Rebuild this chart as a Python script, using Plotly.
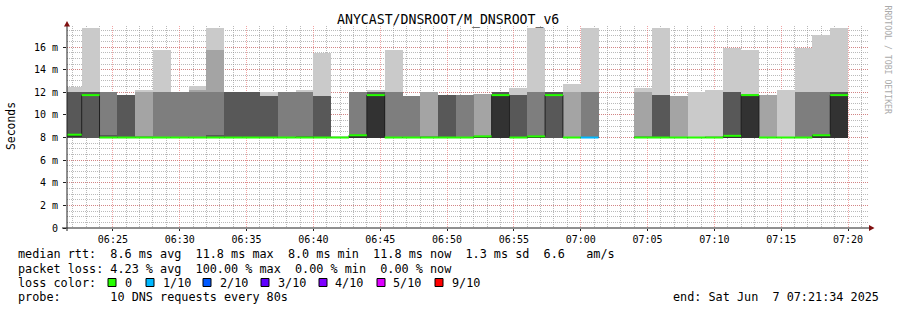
import plotly.graph_objects as go
from datetime import datetime, timedelta

# ---------------- data ----------------
STEP_S = 80
first_step_start = datetime(2025, 6, 7, 6, 21, 20)
view_start = datetime(2025, 6, 7, 6, 21, 34)
view_end = datetime(2025, 6, 7, 7, 21, 34)
N = None

# sorted ping RTTs per 80 s step (ms), rank 1 (fastest) .. rank 10 (slowest)
ping1 = [8.0]*30 + [N, N] + [8.0]*12
ping2 = [8.0]*30 + [N, N] + [8.0]*12
ping3 = [8.0]*30 + [N, N] + [8.0]*12
ping4 = [8.0]*30 + [N, N] + [8.0]*12
ping5 = [8.1, 11.75, 8.0, 8.0, 8.0, 8.0, 8.0, 8.0, 8.0, 8.0,
         8.0, 8.0, 8.0, 8.0, 8.0, 8.0, 8.0, 8.0, 8.0, 8.0,
         8.0, 8.0, 8.0, 8.0, 8.0, 8.0, 8.0, 11.75, 8.0, 8.0,
         N, N, 8.0, 8.0, 8.0, 8.0, 8.0, 8.0, 8.0, 8.0,
         8.0, 8.0, 8.0, 8.0]
ping6 = [8.25, 11.75, 8.0, 8.0, 8.0, 8.0, 8.0, 8.0, 8.0, 8.0,
         8.0, 8.0, 8.0, 8.0, 8.0, 8.0, 8.2, 11.75, 8.0, 8.0,
         8.0, 8.0, 8.0, 8.1, 11.75, 8.0, 8.1, 11.75, 8.0, 8.0,
         N, N, 8.0, 8.0, 8.0, 8.0, 8.0, 8.15, 11.75, 8.0,
         8.0, 8.0, 8.2, 11.75]
ping7 = [12.0, 12.0, 8.25, 11.8, 8.0, 8.0, 8.0, 8.0, 8.25, 12.0,
         12.0, 11.67, 8.0, 8.1, 11.67, 8.0, 8.25, 12.0, 8.0, 8.0,
         8.0, 11.8, 8.0, 8.1, 12.0, 11.8, 8.1, 12.0, 8.0, 8.0,
         N, N, 8.0, 11.8, 8.0, 8.0, 8.0, 12.0, 11.8, 8.0,
         8.0, 8.0, 8.25, 12.0]
ping8 = [12.0, 12.0, 12.0, 11.8, 8.1, 12.0, 12.0, 12.0, 12.0, 12.0,
         12.0, 11.67, 12.0, 12.0, 11.67, 8.0, 12.0, 12.0, 12.0, 11.67,
         8.1, 11.8, 11.8, 8.1, 12.0, 11.8, 12.0, 12.0, 8.0, 12.0,
         N, N, 8.1, 11.8, 8.0, 8.0, 8.0, 12.0, 11.8, 8.0,
         8.0, 12.0, 12.0, 12.0]
ping9 = [12.0, 12.0, 12.0, 11.8, 12.0, 12.0, 12.0, 12.2, 15.72, 12.0,
         12.0, 11.67, 12.0, 12.0, 11.67, 8.0, 12.0, 12.0, 12.0, 11.67,
         12.0, 11.8, 11.8, 11.88, 12.0, 11.8, 12.0, 12.0, 12.0, 12.0,
         N, N, 12.0, 11.8, 11.67, 8.0, 8.1, 12.0, 11.8, 11.8,
         8.0, 12.0, 12.0, 12.0]
ping10 = [12.45, 17.68, 12.0, 11.8, 12.2, 15.72, 12.0, 12.55, 17.68, 12.0,
          12.0, 12.0, 12.0, 12.17, 15.5, 8.1, 12.0, 12.17, 15.72, 11.67,
          12.0, 11.8, 11.8, 11.88, 12.0, 12.38, 17.68, 12.0, 12.76, 17.68,
          N, N, 12.38, 17.68, 11.67, 12.0, 12.17, 15.92, 15.72, 11.8,
          12.17, 15.92, 17.03, 17.68]

median_rtt = [8.25, 11.75, 8.0, 8.0, 8.0, 8.0, 8.0, 8.0, 8.0, 8.0,
              8.0, 8.0, 8.0, 8.0, 8.0, 8.0, 8.2, 11.75, 8.0, 8.0,
              8.0, 8.0, 8.0, 8.1, 11.75, 8.0, 8.1, 11.75, 8.0, 8.0,
              N, N, 8.0, 8.0, 8.0, 8.0, 8.0, 8.15, 11.75, 8.0,
              8.0, 8.0, 8.2, 11.75]
loss_count = [0]*29 + [1, 10, 10] + [0]*12

y_tick_vals = [0, 2, 4, 6, 8, 10, 12, 14, 16]
y_tick_text = ["0", "2 m", "4 m", "6 m", "8 m", "10 m", "12 m", "14 m", "16 m"]

loss_bins = [0, 1, 2, 3, 4, 5, 9]
loss_bin_labels = ["0", "1/10", "2/10", "3/10", "4/10", "5/10", "9/10"]
loss_bin_colors = ["#26ff00", "#00b8ff", "#0059ff", "#5e00ff", "#7e00ff", "#dd00ff", "#ff0000"]

title_text = "ANYCAST/DNSROOT/M_DNSROOT_v6"
legend_line1 = "median rtt:  8.6 ms avg  11.8 ms max  8.0 ms min  11.8 ms now  1.3 ms sd  6.6   am/s"
legend_line2 = "packet loss: 4.23 % avg  100.00 % max  0.00 % min  0.00 % now"
legend_line3 = "loss color:"
legend_line4 = "probe:       10 DNS requests every 80s"
end_text = "end: Sat Jun  7 07:21:34 2025"

# ---------------- layout helpers ----------------
W, H = 897, 310
ML, MR, MT, MB = 67, 28, 26, 82
PW, PH = W - ML - MR, H - MT - MB


def px(x):
    return (x - ML) / PW


def py(y):
    return (H - MB - y) / PH


def nb(s):
    return s.replace(" ", "\u00a0")


MONO = "DejaVu Sans Mono"

n = len(median_rtt)
starts = [first_step_start + timedelta(seconds=STEP_S * k) for k in range(n)]
ends = [s + timedelta(seconds=STEP_S) for s in starts]
centers = [s + timedelta(seconds=STEP_S / 2) for s in starts]

fig = go.Figure()

# smoke bands (SmokePing style), light outer band first
ranks = [ping1, ping2, ping3, ping4, ping5, ping6, ping7, ping8, ping9, ping10]
band_colors = ["#cacaca", "#a4a4a4", "#7e7e7e", "#585858", "#323232"]
for i, col in enumerate(band_colors):
    lo = ranks[i]
    hi = ranks[9 - i]
    height = [(b - a) if (a is not None and b is not None) else None for a, b in zip(lo, hi)]
    fig.add_trace(go.Bar(x=centers, y=height, base=lo, width=STEP_S * 1000,
                         marker=dict(color=col, line=dict(width=0)),
                         hoverinfo="skip", showlegend=False))

# thin dark median step line
mx, my = [], []
for s, e, m in zip(starts, ends, median_rtt):
    if m is None:
        mx += [s, None]
        my += [None, None]
    else:
        mx += [s, e]
        my += [m, m]
fig.add_trace(go.Scatter(x=mx, y=my, mode="lines", line=dict(color="#202020", width=1),
                         hoverinfo="skip", showlegend=False, connectgaps=False))


def bin_color(l):
    c = loss_bin_colors[0]
    for b, cc in zip(loss_bins, loss_bin_colors):
        if l >= b:
            c = cc
    return c


groups = {}
for s, e, m, l in zip(starts, ends, median_rtt, loss_count):
    if m is None:
        continue
    c = bin_color(l)
    gx, gy = groups.setdefault(c, ([], []))
    gx += [s, e, None]
    gy += [m, m, None]
for c, (gx, gy) in groups.items():
    fig.add_trace(go.Scatter(x=gx, y=gy, mode="lines", line=dict(color=c, width=2),
                             hoverinfo="skip", showlegend=False))

minor_grid = "rgba(140,140,140,0.6)"
major_grid = "rgba(230,90,90,0.55)"
dash = "1px,1px"

fig.update_layout(
    width=W, height=H, autosize=False,
    margin=dict(l=ML, r=MR, t=MT, b=MB, pad=0),
    paper_bgcolor="white", plot_bgcolor="white",
    barmode="overlay", bargap=0,
    showlegend=False,
    font=dict(family=MONO, color="black", size=10),
    xaxis=dict(type="date", range=[view_start, view_end],
               tick0="2025-06-07 06:00:00", dtick=300000, tickformat="%H:%M",
               showgrid=True, gridcolor=major_grid, griddash=dash, gridwidth=1,
               minor=dict(dtick=60000, showgrid=True, gridcolor=minor_grid, griddash=dash, gridwidth=1),
               showline=False, zeroline=False, ticks="outside", ticklen=2, tickcolor="#202020",
               tickfont=dict(family=MONO, size=10, color="black"), layer="above traces",
               fixedrange=True),
    yaxis=dict(range=[0, 17.86], tickvals=y_tick_vals, ticktext=y_tick_text,
               showgrid=True, gridcolor=major_grid, griddash=dash, gridwidth=1,
               minor=dict(dtick=0.5, showgrid=True, gridcolor=minor_grid, griddash=dash, gridwidth=1),
               showline=False, zeroline=False, ticks="outside", ticklen=3, tickcolor="#202020",
               ticklabelstandoff=3,
               tickfont=dict(family=MONO, size=10, color="black"), layer="above traces",
               fixedrange=True),
)

shapes = [
    dict(type="line", xref="paper", yref="paper", x0=px(67), x1=px(67), y0=py(231), y1=py(24),
         line=dict(color="#202020", width=1)),
    dict(type="path", xref="paper", yref="paper",
         path=f"M {px(64)} {py(26.5)} L {px(67)} {py(21)} L {px(70)} {py(26.5)} Z",
         fillcolor="#801010", line=dict(width=0)),
    dict(type="line", xref="paper", yref="paper", x0=px(62), x1=px(870), y0=py(228), y1=py(228),
         line=dict(color="#202020", width=1)),
    dict(type="path", xref="paper", yref="paper",
         path=f"M {px(869)} {py(225)} L {px(874.5)} {py(228)} L {px(869)} {py(231)} Z",
         fillcolor="#801010", line=dict(width=0)),
]

annotations = [
    dict(text=nb(title_text), x=px(448), y=py(20), xref="paper", yref="paper",
         xanchor="center", yanchor="middle", showarrow=False,
         font=dict(family=MONO, size=13.2, color="black")),
    dict(text="Seconds", x=px(11), y=py(126), xref="paper", yref="paper", textangle=-90,
         xanchor="center", yanchor="middle", showarrow=False,
         font=dict(family=MONO, size=11.4, color="black")),
    dict(text=nb("RRDTOOL / TOBI OETIKER"), x=px(887.5), y=py(60), xref="paper", yref="paper",
         textangle=90, xanchor="center", yanchor="middle", showarrow=False,
         font=dict(family=MONO, size=8.2, color="#aaaaaa")),
]

leg_font = dict(family=MONO, size=11.8, color="black")
for txt, yy in [(legend_line1, 254.5), (legend_line2, 268.5), (legend_line3, 282.5), (legend_line4, 297)]:
    annotations.append(dict(text=nb(txt), x=px(16), y=py(yy), xref="paper", yref="paper",
                            xanchor="left", yanchor="middle", showarrow=False, font=leg_font))
annotations.append(dict(text=nb(end_text), x=px(881), y=py(297), xref="paper", yref="paper",
                        xanchor="right", yanchor="middle", showarrow=False, font=leg_font))

sq_x = [108, 146, 203, 261, 319, 377, 435]
lab_x = [123, 161, 218, 276, 333, 391, 450]
for sx, lx, lab, c in zip(sq_x, lab_x, loss_bin_labels, loss_bin_colors):
    shapes.append(dict(type="rect", xref="paper", yref="paper", x0=px(sx), x1=px(sx + 8),
                       y0=py(278.5), y1=py(286.5), fillcolor=c, line=dict(color="black", width=1)))
    annotations.append(dict(text=nb(lab), x=px(lx), y=py(282.5), xref="paper", yref="paper",
                            xanchor="left", yanchor="middle", showarrow=False, font=leg_font))

fig.update_layout(shapes=shapes, annotations=annotations)
fig.write_html("out.html")
